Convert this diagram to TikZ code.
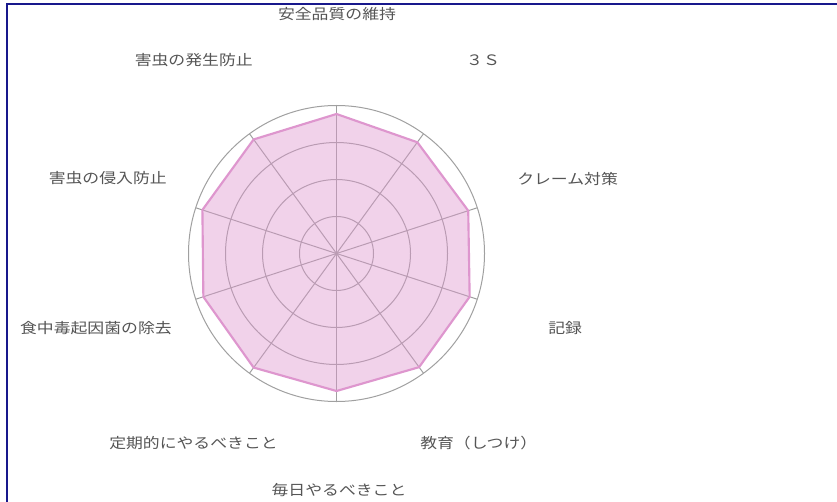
\documentclass[tikz,border=0pt]{standalone}
\usepackage{fontspec}
\newfontfamily\jp[FakeStretch=1.17]{Noto Sans CJK JP}
\definecolor{framec}{RGB}{24,24,140}
\definecolor{gridc}{RGB}{160,160,160}
\definecolor{plumc}{RGB}{222,150,206}
\definecolor{txtc}{RGB}{85,85,85}
\begin{document}
\begin{tikzpicture}[x=0.75pt,y=-0.75pt,
  lbl/.style={font=\jp\fontsize{10.8}{13}\selectfont, text=txtc, inner sep=0pt},
  gridline/.style={draw=gridc, line width=0.75pt},
  area/.style={fill=plumc, fill opacity=0.42, draw=plumc, draw opacity=1, line width=1.6pt, line join=round}]
\useasboundingbox (0,0) rectangle (837,502);
\fill[white] (0,0) rectangle (837,502);
% frame (only top and left edges visible)
\draw[framec, line width=1.3pt] (7,502) -- (7,4) -- (837,4);
\begin{scope}[shift={(336.5,253.5)}, yscale=-1]
  \coordinate (c) at (0,0);
  \foreach \r in {37,74,111,148} \draw[gridline] (c) circle[radius=\r];
  \foreach \k in {0,...,9} {
    \coordinate (s\k) at ({90-36*\k}:148);
    \draw[gridline] (c) -- (s\k);
  }
  \path[area] ({90}:139.5) -- ({54}:137.5) -- ({18}:138.5) -- ({-18}:140)
    -- ({-54}:140.5) -- ({-90}:137.5) -- ({-126}:141) -- ({-162}:140)
    -- ({-198}:141) -- ({-234}:141) -- cycle;
\end{scope}
\node[lbl] (l0) at (337,14.5) {安全品質の維持};
\node[lbl] (t3s) at (483,60) {３Ｓ};
\node[lbl,anchor=east] (l9) at (253,60) {害虫の発生防止};
\node[lbl,anchor=west] (l2) at (517,179) {クレーム対策};
\node[lbl,anchor=east] (l8) at (167,178) {害虫の侵入防止};
\node[lbl,anchor=west] (l3) at (548,328) {記録};
\node[lbl,anchor=east] (l7) at (172,328) {食中毒起因菌の除去};
\node[lbl,anchor=west] (l4) at (420,443) {教育（しつけ）};
\node[lbl,anchor=east] (l6) at (278,443) {定期的にやるべきこと};
\node[lbl] (l5) at (339,490) {毎日やるべきこと};
\end{tikzpicture}
\end{document}
